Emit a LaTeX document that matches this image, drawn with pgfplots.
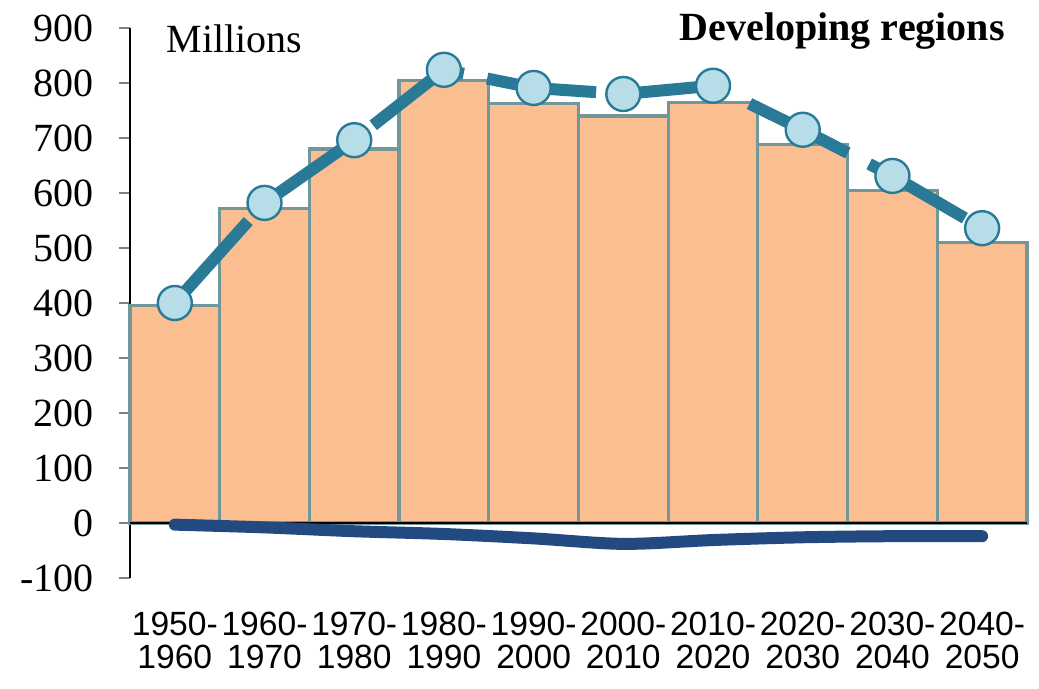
\documentclass[border=0pt]{standalone}
\usepackage{pgfplots}
\pgfplotsset{compat=1.18}
\usepackage{fontspec}
\setmainfont{Liberation Serif}
\newfontfamily\xfont{Liberation Sans}
\definecolor{barfill}{RGB}{250,190,144}
\definecolor{baredge}{RGB}{115,150,155}
\definecolor{tealline}{RGB}{40,122,150}
\definecolor{markfill}{RGB}{183,221,232}
\definecolor{navyline}{RGB}{35,74,128}
\begin{document}
\begin{tikzpicture}
\begin{axis}[
    scale only axis,
    width=448.5pt,
    height=275pt,
    xmin=-0.5, xmax=9.5,
    ymin=-100, ymax=900,
    ytick={-100,0,100,200,300,400,500,600,700,800,900},
    xtick={0,1,2,3,4,5,6,7,8,9},
    xticklabels={1950-\\1960,1960-\\1970,1970-\\1980,1980-\\1990,1990-\\2000,2000-\\2010,2010-\\2020,2020-\\2030,2030-\\2040,2040-\\2050},
    axis x line=bottom,
    axis y line=left,
    x axis line style={draw=none},
    y axis line style={-, black, line width=1.2pt},
    xtick style={draw=none},
    ytick style={gray, line width=0.8pt},
    tick align=outside,
    major tick length=5.5pt,
    /pgf/number format/assume math mode=true,
    yticklabel style={font=\fontsize{20}{24}\selectfont, xshift=-9pt},
    xticklabel style={font=\xfont\fontsize{16.8}{16.5}\selectfont, align=center, yshift=-8pt},
    clip=false,
]
\addplot[ybar, bar width=1, fill=barfill, draw=baredge, line width=1.6pt] coordinates {
    (0,395) (1,572) (2,680) (3,805) (4,762)
    (5,740) (6,765) (7,688) (8,605) (9,510)
};
\draw[black, line width=1.2pt] (axis cs:-0.5,0) -- (axis cs:9.5,0);
\addplot[navyline, line width=6pt, smooth, line cap=round] coordinates {
    (0,-3) (1,-8) (2,-15) (3,-20) (4,-28)
    (5,-38) (6,-31) (7,-26) (8,-24) (9,-24)
};
\addplot[tealline, line width=6pt, dash pattern=on 55pt off 12pt,
    mark=*, mark size=8.5pt,
    mark options={solid, fill=markfill, draw=tealline, line width=1.2pt}] coordinates {
    (0,400) (1,582) (2,696) (3,824) (4,791)
    (5,780) (6,795) (7,715) (8,631) (9,536)
};
\node[anchor=base west, font=\fontsize{20}{24}\selectfont] at (rel axis cs:0.033,0.955) {Millions};
\node[anchor=base east, font=\bfseries\fontsize{20}{24}\selectfont] at (rel axis cs:0.983,0.978) {Developing regions};
\path (rel axis cs:-0.1449,-0.2018) rectangle (rel axis cs:1.0134,1.0509);
\end{axis}
\end{tikzpicture}
\end{document}
